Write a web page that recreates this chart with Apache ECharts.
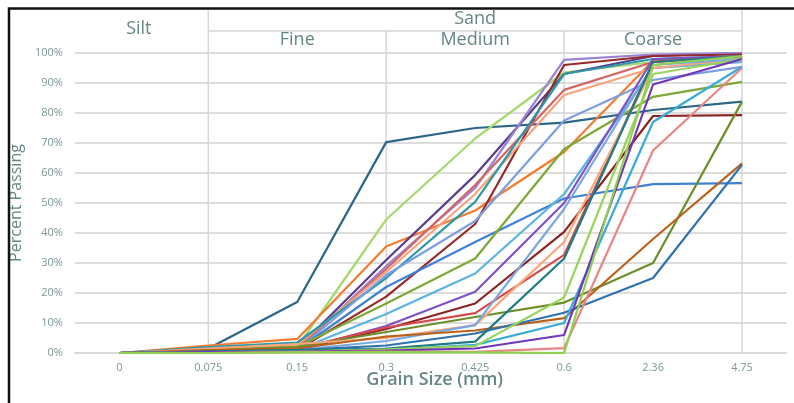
<!DOCTYPE html>
<html>
<head>
<meta charset="utf-8">
<script src="https://cdn.jsdelivr.net/npm/echarts@6/dist/echarts.min.js"></script>
<style>
html,body{margin:0;padding:0;background:#fff;}
#chart{width:794px;height:403px;}
</style>
</head>
<body>
<div id="chart"></div>
<script>
// ---- data ----
const categories = ['0', '0.075', '0.15', '0.3', '0.425', '0.6', '2.36', '4.75'];
const yTicks = [0, 10, 20, 30, 40, 50, 60, 70, 80, 90, 100];

const s01 = [0, 1.5, 17, 70.3, 75, 76.8, 81, 83.8];
const s02 = [0, 1, 2, 44.5, 71.5, 93.5, 97, 98.5];
const s03 = [0, 2.5, 4.7, 35.5, 47.5, 67, 97.5, 99];
const s04 = [0, 1, 1.5, 31, 59.3, 93, 99, 100];
const s05 = [0, 0.5, 1, 29, 55, 97.7, 99.5, 100];
const s06 = [0, 0.5, 1, 18.8, 43, 96, 99, 99.5];
const s07 = [0, 1, 1.5, 28, 56, 87.7, 97, 99];
const s08 = [0, 1.5, 2.5, 27, 53, 86, 95, 97];
const s09 = [0, 2, 3.5, 25, 50.4, 93, 98, 99];
const s10 = [0, 0.5, 1, 26, 44, 77.5, 91, 95.4];
const s11 = [0, 0.5, 1, 22, 37, 51.5, 56.3, 56.6];
const s12 = [0, 1, 2, 16.5, 31.5, 68, 85.4, 90.4];
const s13 = [0, 0.5, 1, 13, 26.5, 53, 95, 97];
const s14 = [0, 0.5, 1, 9, 20.4, 50, 98, 99];
const s15 = [0, 0.5, 1, 8, 16.5, 40.4, 79, 79.3];
const s16 = [0, 1, 1.5, 8.5, 13.3, 32.7, 97, 99];
const s17 = [0, 1, 2, 7, 12, 16.8, 30, 83.8];
const s18 = [0, 1.5, 3, 5, 9.3, 37, 95, 98];
const s19 = [0, 0.5, 1, 4, 9.3, 48, 96, 98];
const s20 = [0, 1, 1.5, 5.5, 7.5, 11.6, 38, 63.2];
const s21 = [0, 0.5, 1, 2.5, 6.5, 13.4, 25, 62.7];
const s22 = [0, 0.5, 1, 1.5, 3.8, 31.5, 97, 99];
const s23 = [0, 0.3, 0.5, 1, 2.7, 10, 77, 95.4];
const s24 = [0, 0.2, 0.5, 1.2, 2.3, 18.5, 93, 98];
const s25 = [0, 0.3, 0.5, 0.8, 1.5, 6, 89.5, 98];
const s26 = [0, 0, 0.3, 0.5, 0.4, 1.6, 67.5, 95];
const s27 = [0, 0, 0.2, 0.3, 0.2, 0, 96, 99];

const seriesData = [s01,s02,s03,s04,s05,s06,s07,s08,s09,s10,s11,s12,s13,s14,s15,s16,s17,s18,s19,s20,s21,s22,s23,s24,s25,s26,s27];
const seriesColors = ['#2b6587','#a5d86f','#f47b30','#5a3c8c','#9a83d4','#962a2a','#d26565','#f8a27c','#2e97a8','#7b9fe0',
  '#3f82d4','#7ca935','#5bb3e2','#8050c8','#8a2222','#d94848','#6b8e2a','#f9a67a','#79a7e0','#b8621c',
  '#2f70b0','#1f7b83','#38abd9','#98d45a','#7035b8','#e88585','#8fd14f'];

const topGroups = [{name:'Silt', from:'0', to:'0.075'}, {name:'Sand', from:'0.075', to:'4.75'}];
const subGroups = [{name:'Fine', from:'0.075', to:'0.3'}, {name:'Medium', from:'0.3', to:'0.6'}, {name:'Coarse', from:'0.6', to:'4.75'}];
const dividerCats = ['0.075', '0.3', '0.6', '4.75'];

const textColor = '#668585';
const font = '"Open Sans", "DejaVu Sans", sans-serif';

const chart = echarts.init(document.getElementById('chart'));
const option = {
  animation: false,
  backgroundColor: '#fff',
  grid: {left: 74.5, right: 7.5, top: 53, bottom: 50, containLabel: false},
  xAxis: {
    type: 'category', data: categories, boundaryGap: true,
    axisLine: {show: true, lineStyle: {color: '#d9d9d9', width: 2}},
    axisTick: {show: false},
    axisLabel: {color: '#7b9696', fontSize: 11, fontFamily: font, margin: 9},
    splitLine: {show: false}
  },
  yAxis: {
    type: 'value', min: yTicks[0], max: yTicks[yTicks.length-1], interval: 10,
    name: 'Percent Passing', nameLocation: 'middle', nameGap: 43,
    nameTextStyle: {color: textColor, fontSize: 16, fontFamily: font},
    axisLine: {show: false}, axisTick: {show: false},
    axisLabel: {color: '#7b9696', fontSize: 11, fontFamily: font, margin: 12, formatter: '{value}%'},
    splitLine: {lineStyle: {color: '#dddddd', width: 2}}
  },
  series: seriesData.map((d, i) => ({
    type: 'line', data: d, symbol: 'none', smooth: false,
    lineStyle: {width: 2.2, color: seriesColors[i]}, itemStyle: {color: seriesColors[i]}, z: 3
  }))
};
chart.setOption(option);

// header & dividers positioned through the axes
const px = c => chart.convertToPixel({xAxisIndex: 0}, c);
const py = v => chart.convertToPixel({yAxisIndex: 0}, v);
const yBot = py(0);
const headerTop = 10, headerMid = 31;
const g = [];
dividerCats.forEach(c => {
  const x = px(c);
  const startY = (c === topGroups[1].from || c === topGroups[1].to) ? headerTop : headerMid;
  g.push({type: 'line', shape: {x1: x, y1: startY, x2: x, y2: yBot}, style: {stroke: '#d6d6d6', lineWidth: 1.5}, z: 0, silent: true});
});
g.push({type: 'line', shape: {x1: px(topGroups[1].from), y1: headerMid, x2: px(topGroups[1].to), y2: headerMid}, style: {stroke: '#d6d6d6', lineWidth: 1.5}, z: 0});
const hdrFont = '500 18px ' + font;
g.push({type: 'text', x: (px('0') + px('0.075')) / 2 - 25, y: 29, style: {text: topGroups[0].name, fill: textColor, font: hdrFont, textAlign: 'center', textVerticalAlign: 'middle'}});
g.push({type: 'text', x: (px(topGroups[1].from) + px(topGroups[1].to)) / 2, y: 19, style: {text: topGroups[1].name, fill: textColor, font: hdrFont, textAlign: 'center', textVerticalAlign: 'middle'}});
subGroups.forEach(sg => {
  g.push({type: 'text', x: (px(sg.from) + px(sg.to)) / 2, y: 40, style: {text: sg.name, fill: textColor, font: hdrFont, textAlign: 'center', textVerticalAlign: 'middle'}});
});
// x axis name, centred under the plot
g.push({type: 'text', x: (px('0') + px('4.75')) / 2 + 4, y: 380, style: {text: 'Grain Size (mm)', fill: textColor, font: '600 18px ' + font, textAlign: 'center', textVerticalAlign: 'middle'}});
// frame
g.push({type: 'rect', shape: {x: 9, y: 8.5, width: 820, height: 420}, style: {fill: 'none', stroke: '#111', lineWidth: 2.5}, z: 10});
chart.setOption({graphic: g});
</script>
</body>
</html>
